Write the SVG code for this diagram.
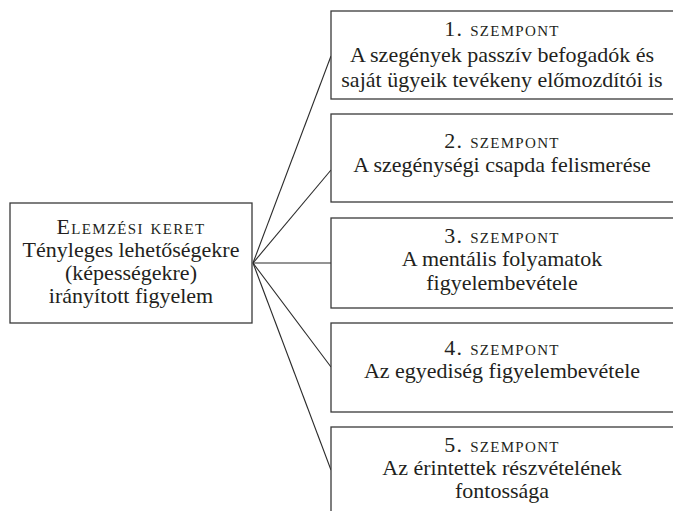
<svg xmlns="http://www.w3.org/2000/svg" width="673" height="511" viewBox="0 0 673 511" font-family="'Liberation Serif', 'DejaVu Serif', serif">
<style>
.box{fill:#fff;stroke:#3a3a3a;stroke-width:1.3}
.conn line{stroke:#2a2a2a;stroke-width:1.1}
text{font-size:22px;fill:#231f20;text-anchor:middle}
.sc{font-variant:small-caps;letter-spacing:1.3px}
</style>
<rect width="673" height="511" fill="#fff"/>
<g id="connectors" class="conn">
<line x1="253" y1="263" x2="331" y2="56"/>
<line x1="253" y1="263" x2="331" y2="170"/>
<line x1="253" y1="263" x2="331" y2="263"/>
<line x1="253" y1="263" x2="331" y2="367"/>
<line x1="253" y1="263" x2="331" y2="470"/>
</g>
<g id="keret">
<rect class="box" x="10" y="203" width="242" height="120"/>
<text x="131" y="234" class="sc">Elemzési keret</text>
<text x="131" y="257">Tényleges lehetőségekre</text>
<text x="131" y="280">(képességekre)</text>
<text x="131" y="303">irányított figyelem</text>
</g>
<g id="sz1">
<rect class="box" x="331" y="11" width="360" height="88"/>
<text x="502" y="36" class="sc">1. szempont</text>
<text x="502" y="62">A szegények passzív befogadók és</text>
<text x="502" y="87">saját ügyeik tevékeny előmozdítói is</text>
</g>
<g id="sz2">
<rect class="box" x="331" y="114" width="360" height="88"/>
<text x="502" y="148" class="sc">2. szempont</text>
<text x="502" y="172">A szegénységi csapda felismerése</text>
</g>
<g id="sz3">
<rect class="box" x="331" y="218" width="360" height="90"/>
<text x="502" y="243" class="sc">3. szempont</text>
<text x="502" y="266">A mentális folyamatok</text>
<text x="502" y="290">figyelembevétele</text>
</g>
<g id="sz4">
<rect class="box" x="331" y="323" width="360" height="89"/>
<text x="502" y="355" class="sc">4. szempont</text>
<text x="502" y="378">Az egyediség figyelembevétele</text>
</g>
<g id="sz5">
<rect class="box" x="331" y="427" width="360" height="100"/>
<text x="502" y="452" class="sc">5. szempont</text>
<text x="502" y="475">Az érintettek részvételének</text>
<text x="502" y="498">fontossága</text>
</g>
</svg>
